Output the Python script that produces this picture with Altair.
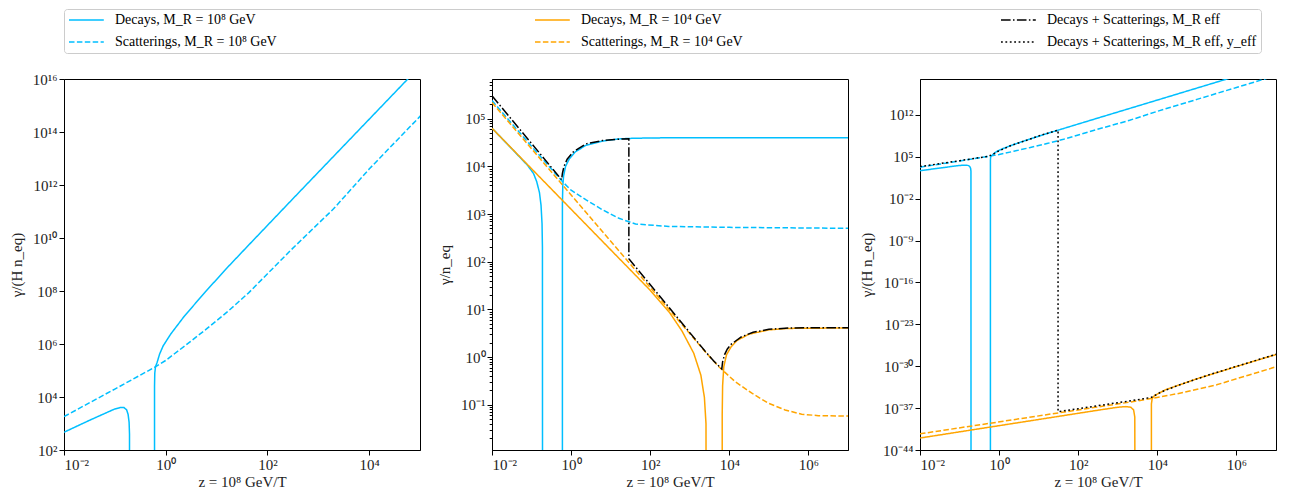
import altair as alt
import pandas as pd

# ---------------- series names / styles ----------------
S_D8 = "Decays, M_R = 10⁸ GeV"
S_S8 = "Scatterings, M_R = 10⁸ GeV"
S_D4 = "Decays, M_R = 10⁴ GeV"
S_S4 = "Scatterings, M_R = 10⁴ GeV"
S_DS = "Decays + Scatterings, M_R eff"
S_DSY = "Decays + Scatterings, M_R eff, y_eff"
SERIES = [S_D8, S_S8, S_D4, S_S4, S_DS, S_DSY]
COLORS = ["#00BFFF", "#00BFFF", "#FFA500", "#FFA500", "#000000", "#000000"]
DASHES = [[1, 0], [5.5, 2.4], [1, 0], [5.5, 2.4], [9.6, 2.4, 1.5, 2.4], [1.8, 2.6]]
WIDTHS = [1.5, 1.5, 1.5, 1.5, 1.5, 1.9]

# ---------------- data (log10 z, log10 gamma) ----------------
# gamma/(H n_eq), M_R = 1e8 (panels 1 and 3)
B_DEC_A_Z = [-2, -1.5, -1.0, -0.9, -0.82, -0.77, -0.74, -0.72, -0.712, -0.71]
B_DEC_A_G = [2.67, 3.12, 3.55, 3.60, 3.60, 3.52, 3.35, 3.05, 2.6, -60]
B_DEC_B_Z = [-0.22, -0.22, -0.215, -0.2, -0.17, -0.12, -0.05, 0.1, 0.37, 0.79, 1.2, 1.6, 2.5, 3.5, 4.75, 5.75, 7]
B_DEC_B_G = [-60, 4.4, 4.9, 5.15, 5.3, 5.62, 5.93, 6.38, 7.06, 7.99, 8.86, 9.67, 11.48, 13.48, 15.98, 17.98, 20.48]
B_SCAT_Z = [-2, -1, -0.22, 0, 0.37, 0.79, 1.21, 1.63, 2.47, 3.3, 4, 5, 6, 7]
B_SCAT_G = [3.26, 4.30, 5.12, 5.38, 5.92, 6.55, 7.21, 7.93, 9.56, 11.1, 12.6, 14.59, 16.58, 18.58]

# gamma/(H n_eq), M_R = 1e4 (panel 3)
O3_DEC_A_Z = [-2, 1, 2.5, 3.0, 3.2, 3.33, 3.4, 3.43, 3.44]
O3_DEC_A_G = [-42.0, -38.9, -37.35, -36.85, -36.75, -36.85, -37.3, -38.5, -70]
O3_DEC_B_Z = [3.85, 3.85, 3.87, 3.93, 4.2, 5, 6, 7]
O3_DEC_B_G = [-70, -36.3, -35.4, -34.9, -33.95, -32.1, -30.05, -28.05]
O3_SCAT_Z = [-2, 3.4, 3.85, 4.5, 5.5, 6.3, 7]
O3_SCAT_G = [-41.3, -35.9, -35.4, -34.6, -33.1, -31.5, -30.1]
K3_Z = [-2, -1, -0.5, -0.29, -0.17, -0.03, 0.30, 0.73, 1.1, 1.49, 1.49, 2.0, 2.84, 3.5, 3.85, 4.1, 4.52, 5.37, 6.21, 7.0]
K3_G = [3.36, 4.35, 4.85, 5.05, 5.35, 5.9, 6.88, 7.85, 8.7, 9.45, -37.6, -37.1, -36.25, -35.6, -35.2, -34.3, -33.2, -31.3, -29.6, -28.0]

# gamma/n_eq (panel 2)
P2_BDA_Z = [-2, -1.5, -1.1, -0.95, -0.87, -0.8, -0.76, -0.735, -0.725, -0.72]
P2_BDA_G = [4.80, 4.37, 4.02, 3.85, 3.68, 3.45, 3.18, 2.8, 2.3, -10]
P2_BDB_Z = [-0.22, -0.22, -0.21, -0.19, -0.14, -0.05, 0.1, 0.37, 0.79, 1.2, 1.6, 2.5, 7]
P2_BDB_G = [-10, 3.2, 3.6, 3.8, 4.0, 4.15, 4.3, 4.44, 4.53, 4.575, 4.59, 4.6, 4.6]
P2_BS_Z = [-2, -1, -0.22, 0, 0.37, 0.79, 1.21, 1.63, 2.47, 4, 7]
P2_BS_G = [5.38, 4.42, 3.68, 3.50, 3.30, 3.09, 2.91, 2.79, 2.74, 2.72, 2.70]
P2_OS_Z = [-2, 0, 2, 3.39, 3.73, 4.15, 4.57, 4.99, 5.41, 5.83, 6.25, 7]
P2_OS_G = [5.34, 3.40, 1.46, 0.11, -0.20, -0.52, -0.76, -0.97, -1.11, -1.2, -1.23, -1.24]
P2_ODA_Z = [-2, 0, 2, 2.5, 2.8, 3.1, 3.28, 3.37, 3.41, 3.42]
P2_ODA_G = [4.80, 3.10, 1.40, 0.92, 0.55, 0.08, -0.38, -0.85, -1.4, -10]
P2_ODB_Z = [3.82, 3.82, 3.83, 3.86, 3.93, 4.05, 4.2, 4.5, 5.0, 5.5, 7]
P2_ODB_G = [-10, -1.2, -0.6, -0.2, 0.05, 0.22, 0.35, 0.48, 0.57, 0.6, 0.61]
P2_K_Z = [-2, -0.24, -0.22, -0.18, -0.1, 0.05, 0.37, 0.79, 1.2, 1.46, 1.46, 3.39, 3.6, 3.81, 3.83, 3.88, 3.95, 4.05, 4.3, 4.6, 5.0, 5.5, 7]
P2_K_G = [5.48, 3.72, 3.85, 4.0, 4.15, 4.3, 4.47, 4.54, 4.57, 4.58, 2.06, 0.12, -0.08, -0.25, -0.1, 0.05, 0.17, 0.27, 0.42, 0.52, 0.58, 0.61, 0.615]


def build(parts):
    rows = []
    for series, seg, zs, gs in parts:
        for i, (a, b) in enumerate(zip(zs, gs)):
            rows.append({"z": 10.0 ** a, "g": 10.0 ** b, "series": series, "seg": seg, "i": i})
    return pd.DataFrame(rows)


df1 = build([
    (S_D8, "d8a", B_DEC_A_Z, B_DEC_A_G),
    (S_D8, "d8b", B_DEC_B_Z, B_DEC_B_G),
    (S_S8, "s8", B_SCAT_Z, B_SCAT_G),
])
df2 = build([
    (S_D8, "d8a", P2_BDA_Z, P2_BDA_G),
    (S_D8, "d8b", P2_BDB_Z, P2_BDB_G),
    (S_S8, "s8", P2_BS_Z, P2_BS_G),
    (S_D4, "d4a", P2_ODA_Z, P2_ODA_G),
    (S_D4, "d4b", P2_ODB_Z, P2_ODB_G),
    (S_S4, "s4", P2_OS_Z, P2_OS_G),
    (S_DS, "k", P2_K_Z, P2_K_G),
])
df3 = build([
    (S_D8, "d8a", B_DEC_A_Z, B_DEC_A_G),
    (S_D8, "d8b", B_DEC_B_Z, B_DEC_B_G),
    (S_S8, "s8", B_SCAT_Z, B_SCAT_G),
    (S_D4, "d4a", O3_DEC_A_Z, O3_DEC_A_G),
    (S_D4, "d4b", O3_DEC_B_Z, O3_DEC_B_G),
    (S_S4, "s4", O3_SCAT_Z, O3_SCAT_G),
    (S_DSY, "k", K3_Z, K3_G),
])

FONT = "Liberation Serif"
SUP = "toString(round(log(datum.value)/LN10))"
for d, s in zip("-0123456789", "⁻⁰¹²³⁴⁵⁶⁷⁸⁹"):
    SUP = f"replace({SUP}, regexp('{d}', 'g'), '{s}')"
IS_MAJOR = "abs(log(datum.value)/LN10 - round(log(datum.value)/LN10)) < 0.001"
LABEL = f"({IS_MAJOR}) ? '10' + {SUP} : ''"

LEG = alt.Legend(
    title=None, orient="none", legendX=0, legendY=-70, columns=3,
    columnPadding=255, rowPadding=8, symbolType="M-1,0H4.8", symbolSize=144,
    symbolStrokeWidth=1.5, labelFont=FONT, labelFontSize=14, labelLimit=0,
    labelOffset=33, padding=4, strokeColor="#cccccc", cornerRadius=3,
    fillColor="white", labelColor="#000000",
)

XT = "z = 10⁸ GeV/T"


def panel(df, xdom, ydom, xvals, yvals, ytitle, minor=False):
    yaxis = dict(values=yvals, labelExpr=LABEL, title=ytitle, tickSize=5)
    if minor:
        yaxis["tickSize"] = {"condition": {"test": IS_MAJOR, "value": 5}, "value": 2.8}
    return alt.Chart(df).mark_line(clip=True).encode(
        x=alt.X("z:Q", scale=alt.Scale(type="log", domain=xdom, nice=False),
                axis=alt.Axis(values=xvals, labelExpr=LABEL, title=XT, tickSize=5)),
        y=alt.Y("g:Q", scale=alt.Scale(type="log", domain=ydom, nice=False),
                axis=alt.Axis(**yaxis)),
        color=alt.Color("series:N", scale=alt.Scale(domain=SERIES, range=COLORS), legend=LEG),
        strokeDash=alt.StrokeDash("series:N", scale=alt.Scale(domain=SERIES, range=DASHES), legend=LEG),
        strokeWidth=alt.StrokeWidth("series:N", scale=alt.Scale(domain=SERIES, range=WIDTHS), legend=None),
        detail="seg:N",
        order="i:Q",
    ).properties(width=356, height=371)


y1_vals = [10.0 ** k for k in range(2, 17, 2)]
x1_vals = [10.0 ** k for k in range(-2, 5, 2)]
x23_vals = [10.0 ** k for k in range(-2, 7, 2)]
y2_dom = [0.0112, 6.8e5]
y2_vals = []
for k in range(-2, 6):
    for m in range(1, 10):
        v = m * 10.0 ** k
        if y2_dom[0] <= v <= y2_dom[1]:
            y2_vals.append(v)
y3_vals = [10.0 ** k for k in range(-44, 13, 7)]

p1 = panel(df1, [1e-2, 1e5], [1e2, 1e16], x1_vals, y1_vals, "γ/(H n_eq)")
p2 = panel(df2, [1e-2, 1e7], y2_dom, x23_vals, y2_vals, "γ/n_eq", minor=True)
p3 = panel(df3, [1e-2, 1e7], [1e-44, 1e18], x23_vals, y3_vals, "γ/(H n_eq)")

chart = alt.hconcat(p1, p2, p3, spacing=72, bounds="flush").resolve_scale(
    x="independent", y="independent", color="shared", strokeDash="shared"
).properties(
    padding={"left": 0, "top": 0, "right": 0, "bottom": 0}
).configure_view(
    stroke="#000000", strokeWidth=1
).configure_axis(
    grid=False, domainColor="#000000", tickColor="#000000", labelColor="#222222",
    labelFont=FONT, labelFontSize=15, titleFont=FONT, titleFontSize=15,
    titleFontWeight="normal", titleColor="#222222", labelPadding=2, titlePadding=2,
).configure_axisY(
    titlePadding=8
)

chart.save("out.html", embed_options={"renderer": "svg", "actions": False})
